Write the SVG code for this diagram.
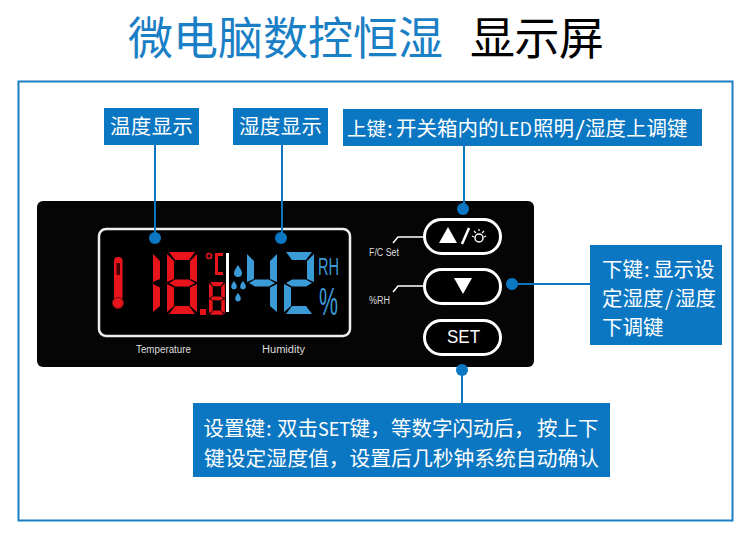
<svg xmlns="http://www.w3.org/2000/svg" width="750" height="539" viewBox="0 0 750 539">
<style>
.box{fill:#0b77c2}
.cjk{font-family:"Noto Sans CJK SC","Liberation Sans",sans-serif}
.lbl{fill:#fff;font-size:20.500px}
.title{font-size:45px}
.small{font-family:"Liberation Sans",sans-serif;fill:#ddd;font-size:10px}
.link{stroke:#0b77c2;stroke-width:2;fill:none}
.dot{fill:#0b77c2}
.btn{fill:#000;stroke:#fff;stroke-width:3}
.lead{stroke:#fff;stroke-width:1.5;fill:none}
.red{fill:#e8141c}
.blue{fill:#3b9bd6}
</style>
<defs>
<polygon id="sa" points="2,0 28,0 22,8 8,8"/>
<polygon id="sf" points="0,2 7,9 7,27 0,30"/>
<polygon id="sb" points="30,2 30,30 23,27 23,9"/>
<polygon id="sg" points="2,31 8,27.500 22,27.500 28,31 22,34.500 8,34.500"/>
<polygon id="se" points="0,32 7,35.500 7,54 0,60"/>
<polygon id="sc" points="30,32 30,60 23,54 23,35.500"/>
<polygon id="sd" points="8,54 22,54 28,62 2,62"/>
<g id="eight">
<use href="#sa"/><use href="#sf"/><use href="#sb"/><use href="#sg"/><use href="#se"/><use href="#sc"/><use href="#sd"/>
</g>
<path id="drop" d="M0,-6C1.500,-3 4,-1 4,2A4,4 0 0 1 -4,2C-4,-1 -1.500,-3 0,-6Z"/>
</defs>
<rect width="750" height="539" fill="#fff"/>
<g id="title" class="cjk title">
<text x="128" y="55" fill="#1a7fc4" textLength="315">微电脑数控恒湿</text>
<text x="470" y="55" fill="#000" textLength="134">显示屏</text>
</g>
<rect id="frame" x="18.500" y="81.500" width="714" height="439" fill="none" stroke="#1a7fc4" stroke-width="2"/>
<g id="panel">
<rect x="37" y="201" width="497" height="166" rx="6" fill="#050505"/>
<rect x="99" y="229" width="251" height="107" rx="7" fill="#000" stroke="#eee" stroke-width="2.500"/>
<g id="thermometer">
<rect x="114" y="257" width="8.500" height="44" rx="4" fill="#e8141c"/>
<rect x="116.500" y="263" width="3.500" height="12" fill="#400"/>
<circle cx="118" cy="303" r="5.500" fill="#e8141c" stroke="#7a0c10" stroke-width="1"/>
</g>
<g id="temp-digits" class="red">
<g transform="translate(153,252)"><use href="#sf"/><use href="#se"/></g>
<use href="#eight" transform="translate(167,252)"/>
<rect x="200" y="309" width="6" height="6"/>
<use href="#eight" transform="translate(209,282) scale(.53)"/>
<path d="M215,253h8v3h-5v16h5v3h-8z"/>
<circle cx="209" cy="256" r="2.500" fill="none" stroke="#e8141c" stroke-width="1.500"/>
</g>
<rect x="226" y="253" width="3" height="59" fill="#fff"/>
<g id="drops" class="blue">
<use href="#drop" transform="translate(238,271)"/>
<use href="#drop" transform="translate(234,285) scale(.7)"/>
<use href="#drop" transform="translate(243,285) scale(.7)"/>
<use href="#drop" transform="translate(238,297) scale(.7)"/>
</g>
<g id="hum-digits" class="blue">
<g transform="translate(247,252)"><use href="#sf"/><use href="#sg"/><use href="#sb"/><use href="#sc"/></g>
<g transform="translate(284,252)"><use href="#sa"/><use href="#sb"/><use href="#sg"/><use href="#se"/><use href="#sd"/></g>
<text x="318" y="275" font-family="Liberation Sans,sans-serif" font-size="23" textLength="21" lengthAdjust="spacingAndGlyphs">RH</text>
<text x="319" y="315" font-family="Liberation Sans,sans-serif" font-size="38" textLength="19" lengthAdjust="spacingAndGlyphs">%</text>
</g>
<text class="small" x="136" y="353" textLength="55" lengthAdjust="spacingAndGlyphs">Temperature</text>
<text class="small" x="262" y="353" textLength="43" lengthAdjust="spacingAndGlyphs">Humidity</text>
<text class="small" x="369" y="256" textLength="30" lengthAdjust="spacingAndGlyphs">F/C Set</text>
<text class="small" x="369" y="304" textLength="21" lengthAdjust="spacingAndGlyphs">%RH</text>
<path class="lead" d="M393,243L398,237H424M393,292L398,286H424"/>
</g>
<g id="btn-up">
<rect class="btn" x="424.500" y="219.500" width="76" height="34" rx="17"/>
<polygon points="439,243 448,227 457,243" fill="#fff"/>
<path d="M462,244L469,228" stroke="#fff" stroke-width="2.500" fill="none"/>
<circle cx="479" cy="238" r="4" fill="none" stroke="#fff" stroke-width="1.500"/>
<path d="M472,236l2,1M474,231l2,2M479,229v2M484,231l-2,2M486,236l-2,1" stroke="#fff" stroke-width="1.200" fill="none"/>
</g>
<g id="btn-down">
<rect class="btn" x="424.500" y="269.500" width="76" height="34" rx="17"/>
<polygon points="454,278 472,278 463,294" fill="#fff"/>
</g>
<g id="btn-set">
<rect class="btn" x="424.500" y="320.500" width="76" height="34" rx="17"/>
<text x="447" y="343" font-family="Liberation Sans,sans-serif" font-size="18" fill="#fff" textLength="33" lengthAdjust="spacingAndGlyphs">SET</text>
</g>
<g id="connectors">
<path class="link" d="M155,145V238M282,145V238M464,146V209M512,284H590M462,370V403"/>
<circle class="dot" cx="155" cy="238" r="6"/>
<circle class="dot" cx="281" cy="238" r="6"/>
<circle class="dot" cx="463" cy="209" r="6"/>
<circle class="dot" cx="512" cy="284" r="6"/>
<circle class="dot" cx="462" cy="370" r="6"/>
</g>
<g id="label-temp">
<rect class="box" x="104" y="108" width="95" height="37"/>
<text class="cjk lbl" x="110" y="134" textLength="83">温度显示</text>
</g>
<g id="label-hum">
<rect class="box" x="233" y="108" width="95" height="37"/>
<text class="cjk lbl" x="239" y="134" textLength="83">湿度显示</text>
</g>
<g id="label-up">
<rect class="box" x="343" y="109" width="359" height="37"/>
<text class="cjk lbl" y="136"><tspan x="347" font-size="19.500">上键</tspan><tspan x="387">:</tspan><tspan x="396">开关箱内的</tspan><tspan x="499" font-size="18">LED</tspan><tspan x="533">照明</tspan><tspan x="575" textLength="10" lengthAdjust="spacingAndGlyphs">/</tspan><tspan x="585">湿度上调键</tspan></text>
</g>
<g id="label-down">
<rect class="box" x="590" y="245" width="132" height="100"/>
<text class="cjk lbl" y="277"><tspan x="602">下键</tspan><tspan x="644">:</tspan><tspan x="653">显示设</tspan></text>
<text class="cjk lbl" y="306"><tspan x="602">定湿度</tspan><tspan x="665">/</tspan><tspan x="675">湿度</tspan></text>
<text class="cjk lbl" x="602" y="335">下调键</text>
</g>
<g id="label-set">
<rect class="box" x="193" y="403" width="417" height="74"/>
<text class="cjk lbl" y="436"><tspan x="203.500">设置键</tspan><tspan x="266">:</tspan><tspan x="277">双击</tspan><tspan x="318" font-size="18">SET</tspan><tspan x="349.500">键，</tspan><tspan x="391">等数字闪动后，</tspan><tspan x="537">按上下</tspan></text>
<text class="cjk lbl" x="204" y="466" textLength="395" lengthAdjust="spacingAndGlyphs">键设定湿度值，设置后几秒钟系统自动确认</text>
</g>
</svg>
